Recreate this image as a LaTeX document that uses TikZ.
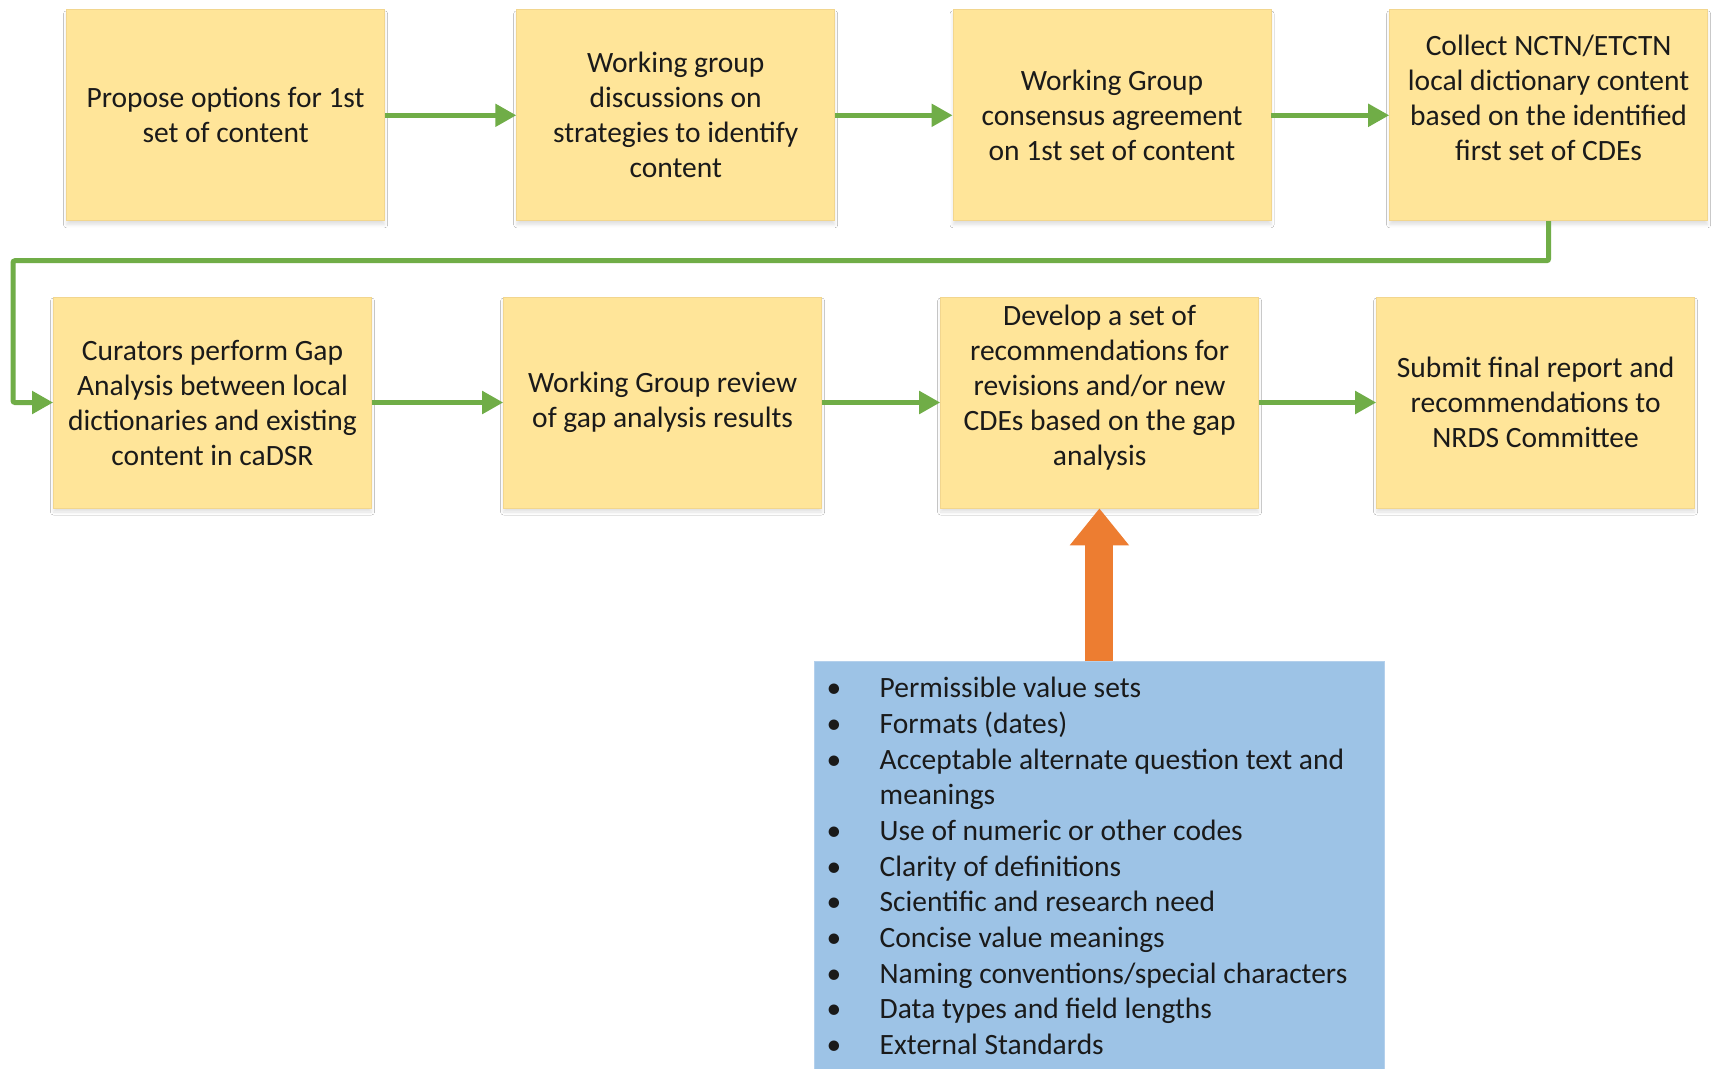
\documentclass[tikz,border=0pt]{standalone}
\usepackage{fontspec}
\setmainfont{Carlito}
\usetikzlibrary{arrows.meta,shadows.blur}
\definecolor{boxfill}{HTML}{FFE599}
\definecolor{boxline}{HTML}{F2D68E}
\definecolor{flowgreen}{HTML}{70AD47}
\definecolor{listblue}{HTML}{9DC3E6}
\definecolor{listline}{HTML}{B4D0EC}
\definecolor{arroworange}{HTML}{ED7D31}
\definecolor{txt}{HTML}{1A1A1A}
\tikzset{
  stepbox/.style={draw=boxline, line width=0.8pt, fill=boxfill,
    minimum width=318pt, minimum height=211pt, inner sep=0pt,
    align=center, text=txt, font=\fontsize{29.5}{35}\selectfont,
    blur shadow={shadow xshift=0pt, shadow yshift=-4pt, shadow opacity=12,
      shadow blur radius=3pt, shadow blur steps=6}},
  flow/.style={draw=flowgreen, line width=5pt,
    -{Triangle[length=21pt,width=22pt]}, rounded corners=2pt},
  bigarrow/.style={draw=arroworange, line width=28pt,
    -{Triangle[length=37pt,width=57pt]}},
  listbox/.style={fill=listblue, draw=listline, line width=0.8pt,
    minimum width=570pt, minimum height=420pt, inner sep=0pt},
  listtext/.style={inner sep=0pt, align=left, text=txt,
    font=\fontsize{29.5}{35.7}\selectfont}
}
\newcommand{\bul}{\makebox[53pt][l]{\textbullet}}
\begin{document}
\begin{tikzpicture}[x=1pt,y=-1pt]
\useasboundingbox[fill=white] (0,0) rectangle (1713,1068);

\node[stepbox] (b1) at (225.6,115.3) {Propose options for 1st\\set of content};
\node[stepbox] (b2) at (675.7,115.3) {Working group\\discussions on\\strategies to identify\\content};
\node[stepbox] (b3) at (1112,115.3) {Working Group\\consensus agreement\\on 1st set of content};
\node[stepbox] (b4) at (1548.6,115.3) {Collect NCTN/ETCTN\\local dictionary content\\based on the identified\\first set of CDEs\\\mbox{}};

\node[stepbox] (b5) at (212.5,402.5) {Curators perform Gap\\Analysis between local\\dictionaries and existing\\content in caDSR};
\node[stepbox] (b6) at (662.6,402.5) {Working Group review\\of gap analysis results};
\node[stepbox] (b7) at (1099.6,402.5) {Develop a set of\\recommendations for\\revisions and/or new\\CDEs based on the gap\\analysis\\\mbox{}};
\node[stepbox] (b8) at (1535.6,402.5) {Submit final report and\\recommendations to\\NRDS Committee};

\draw[flow] (b1.east) -- (b2.west);
\draw[flow] (b2.east) -- (b3.west);
\draw[flow] (b3.east) -- (b4.west);
\coordinate (t1) at (1548.6,260.7);
\coordinate (t2) at (13,260.7);
\draw[flow] (b4.south -| t1) -- (t1) -- (t2) -- (t2 |- b5.west) -- (b5.west);
\draw[flow] (b5.east) -- (b6.west);
\draw[flow] (b6.east) -- (b7.west);
\draw[flow] (b7.east) -- (b8.west);

\node[listbox, anchor=north west] (lst) at (814,661) {};
\draw[bigarrow] (lst.north) -- (lst.north |- b7.south);

\node[listtext, anchor=north west] (items) at (826.5,677) {%
\bul Permissible value sets\\
\bul Formats (dates)\\
\bul Acceptable alternate question text and\\
\hspace*{53pt}meanings\\
\bul Use of numeric or other codes\\
\bul Clarity of definitions\\
\bul Scientific and research need\\
\bul Concise value meanings\\
\bul Naming conventions/special characters\\
\bul Data types and field lengths\\
\bul External Standards};
\end{tikzpicture}
\end{document}
